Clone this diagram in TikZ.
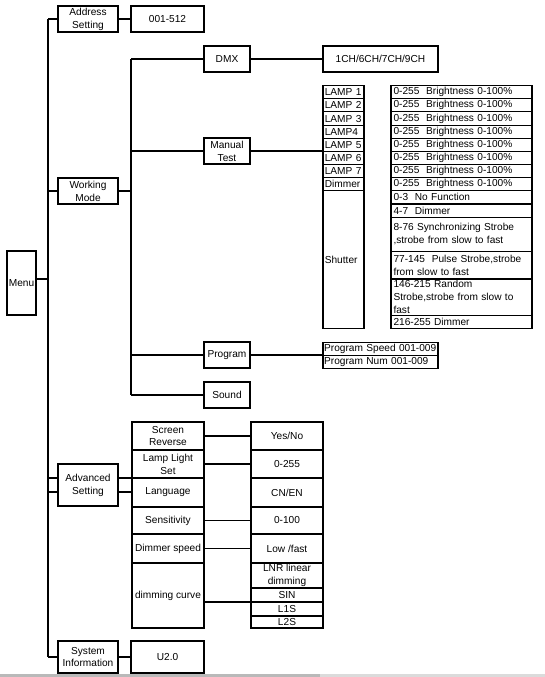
\documentclass[tikz,border=0pt]{standalone}
\usepackage{fontspec}
\setmainfont{Liberation Sans}
\usetikzlibrary{calc}
\newcommand\cellbox[7]{%
  \pgfmathsetmacro\cbw{(#5-#3)*0.75}%
  \pgfmathsetmacro\cbh{(#6-#4)*0.75}%
  \node[#1, minimum width=\cbw pt, minimum height=\cbh pt, anchor=center] (#2) at ({(#3+#5)/2},{(#4+#6)/2}) {#7};}
\begin{document}
\begin{tikzpicture}[x=0.75pt,y=-0.75pt,
  box/.style={draw, line width=0.8pt, inner sep=0pt, outer sep=0pt, align=center,
    font=\fontsize{7.6}{9.6}\selectfont},
  lampcell/.style={box, text width=28pt, align=left},
  valcell/.style={box, text width=102pt, align=left},
  progcell/.style={box, text width=84.5pt, align=left},
  wire/.style={line width=0.8pt}]
\useasboundingbox (0,0) rectangle (545,677);
\fill[white] (0,0) rectangle (545,677);
\fill[gray!55] (0,674) rectangle (320,677);
\fill[gray!28] (320,674) rectangle (545,677);

% level 0/1
\cellbox{box}{menu}{7}{251}{36}{315}{Menu}
\cellbox{box}{addr}{58}{6}{118}{32}{Address\\Setting}
\cellbox{box}{v512}{131}{6}{204}{32}{001-512}
\cellbox{box}{wm}{58}{178}{118}{204}{Working\\Mode}
\cellbox{box}{adv}{58}{464}{118}{506}{Advanced\\Setting}
\cellbox{box}{sys}{58}{641}{118}{673}{System\\Information}
\cellbox{box}{u20}{131}{641}{204}{673}{U2.0}

% working mode
\cellbox{box}{dmx}{204}{46}{250}{72}{DMX}
\cellbox{box}{ch}{323}{46}{438}{72}{1CH/6CH/7CH/9CH}
\cellbox{box}{mt}{204}{138}{250}{164}{Manual\\Test}
\cellbox{box}{prog}{204}{342}{250}{368}{Program}
\cellbox{box}{sound}{204}{382}{250}{408}{Sound}

% lamp table
\cellbox{lampcell}{l1}{323}{85.7}{364}{98.8}{LAMP 1}
\cellbox{lampcell}{l2}{323}{98.8}{364}{111.95}{LAMP 2}
\cellbox{lampcell}{l3}{323}{111.95}{364}{125.1}{LAMP 3}
\cellbox{lampcell}{l4}{323}{125.1}{364}{138.2}{LAMP4}
\cellbox{lampcell}{l5}{323}{138.2}{364}{151.3}{LAMP 5}
\cellbox{lampcell}{l6}{323}{151.3}{364}{164.45}{LAMP 6}
\cellbox{lampcell}{l7}{323}{164.45}{364}{177.6}{LAMP 7}
\cellbox{lampcell}{ld}{323}{177.6}{364}{190.7}{Dimmer}
\cellbox{lampcell}{ls}{323}{190.7}{364}{328.3}{Shutter}

\cellbox{valcell}{r1}{391}{85.7}{532}{98.8}{0-255~~Brightness 0-100\%}
\cellbox{valcell}{r2}{391}{98.8}{532}{111.95}{0-255~~Brightness 0-100\%}
\cellbox{valcell}{r3}{391}{111.95}{532}{125.1}{0-255~~Brightness 0-100\%}
\cellbox{valcell}{r4}{391}{125.1}{532}{138.2}{0-255~~Brightness 0-100\%}
\cellbox{valcell}{r5}{391}{138.2}{532}{151.3}{0-255~~Brightness 0-100\%}
\cellbox{valcell}{r6}{391}{151.3}{532}{164.45}{0-255~~Brightness 0-100\%}
\cellbox{valcell}{r7}{391}{164.45}{532}{177.6}{0-255~~Brightness 0-100\%}
\cellbox{valcell}{rd}{391}{177.6}{532}{190.7}{0-255~~Brightness 0-100\%}
\cellbox{valcell}{s1}{391}{190.7}{532}{204}{0-3~~No Function}
\cellbox{valcell}{s2}{391}{204}{532}{217.3}{4-7~~Dimmer}
\cellbox{valcell}{s3}{391}{217.3}{532}{251.3}{8-76 Synchronizing Strobe\\,strobe from slow to fast}
\cellbox{valcell}{s4}{391}{251.3}{532}{279}{77-145~~Pulse Strobe,strobe\\from slow to fast}
\cellbox{valcell}{s5}{391}{279}{532}{315.3}{146-215 Random\\Strobe,strobe from slow to\\fast}
\cellbox{valcell}{s6}{391}{315.3}{532}{328.3}{216-255 Dimmer}

% program table
\cellbox{progcell}{pspeed}{323}{342.3}{438}{355.5}{Program Speed 001-009}
\cellbox{progcell}{pnum}{323}{355.5}{438}{368.3}{Program Num 001-009}

% advanced settings
\cellbox{box}{sr}{132}{422}{204}{450}{Screen\\Reverse}
\cellbox{box}{lls}{132}{450}{204}{478}{Lamp Light\\Set}
\cellbox{box}{lang}{132}{478}{204}{507}{Language}
\cellbox{box}{sens}{132}{507}{204}{534}{Sensitivity}
\cellbox{box}{dsp}{132}{534}{204}{563}{Dimmer speed}
\cellbox{box}{curve}{132}{563}{204}{628}{dimming curve}

\cellbox{box}{yn}{251}{422}{323}{450}{Yes/No}
\cellbox{box}{v255}{251}{450}{323}{478}{0-255}
\cellbox{box}{cnen}{251}{478}{323}{507}{CN/EN}
\cellbox{box}{v100}{251}{507}{323}{534}{0-100}
\cellbox{box}{low}{251}{534}{323}{563}{Low /fast}
\cellbox{box}{lnr}{251}{563}{323}{588}{LNR linear\\dimming}
\cellbox{box}{sin}{251}{588}{323}{602}{SIN}
\cellbox{box}{l1s}{251}{602}{323}{616}{L1S}
\cellbox{box}{l2s}{251}{616}{323}{628}{L2S}

% connectors
\coordinate (busA) at (48,0);
\coordinate (busB) at (131,0);
\draw[wire] (addr.west -| busA) -- (sys.west -| busA);
\draw[wire] (addr.west) -- (addr.west -| busA);
\draw[wire] ([yshift=3pt]menu.east) -- ([yshift=3pt]menu.east -| busA);
\draw[wire] (wm.west) -- (wm.west -| busA);
\draw[wire] ([yshift=5.25pt]adv.west) -- ([yshift=5.25pt]adv.west -| busA);
\draw[wire] ([yshift=-5.25pt]adv.west) -- ([yshift=-5.25pt]adv.west -| busA);
\draw[wire] (sys.west) -- (sys.west -| busA);
\draw[wire] (addr.east) -- (v512.west);
\draw[wire] (sys.east) -- (u20.west);

\draw[wire] (wm.east) -- (wm.east -| busB);
\draw[wire] (dmx.west -| busB) -- (sound.west -| busB);
\draw[wire] (dmx.west) -- (dmx.west -| busB);
\draw[wire] (mt.west) -- (mt.west -| busB);
\draw[wire] (prog.west) -- (prog.west -| busB);
\draw[wire] (sound.west) -- (sound.west -| busB);
\draw[wire] (dmx.east) -- (ch.west);
\draw[wire] (mt.east) -- (mt.east -| l5.west);
\draw[wire] (prog.east) -- (prog.east -| pspeed.west);

\draw[wire] ([yshift=5.25pt]adv.east) -- ([yshift=5.25pt]adv.east -| sr.west);
\draw[wire] ([yshift=-5.25pt]adv.east) -- ([yshift=-5.25pt]adv.east -| sr.west);
\draw[wire] (sr.east) -- (yn.west);
\draw[wire] (lls.east) -- (v255.west);
\draw[wire] (sens.east) -- (v100.west);
\draw[wire] (dsp.east) -- (low.west);
\draw[wire] (curve.east |- sin.south west) -- (sin.south west);
\end{tikzpicture}
\end{document}
